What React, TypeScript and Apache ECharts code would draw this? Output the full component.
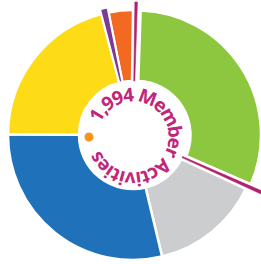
import React, { useEffect, useRef } from 'react';
import * as echarts from 'echarts';

// Slices clockwise from the top
const categories = ['Green', 'Magenta A', 'Gray', 'Blue', 'Yellow', 'Purple', 'Orange', 'Magenta B'];
const values = [618, 7, 287, 575, 415, 19, 67, 6];
const colors = ['#8dc63f', '#b0226b', '#cccdcf', '#1f72ba', '#fedb17', '#7b3a96', '#f26a21', '#b0226b'];
const centerTitle = '1,994 Member Activities';

const CX = 133;
const CY = 135;

function makeSeries(
  center: [number, number],
  radius: [number, number],
  visible: number[],
  style: (i: number) => Record<string, unknown>,
  z: number
) {
  return {
    type: 'pie',
    center,
    radius,
    startAngle: 88.1,
    clockwise: true,
    z,
    silent: true,
    avoidLabelOverlap: false,
    label: { show: false },
    labelLine: { show: false },
    emphasis: { disabled: true },
    data: categories.map((name, i) => ({
      name,
      value: values[i],
      itemStyle: visible.includes(i)
        ? style(i)
        : { color: 'rgba(0,0,0,0)', borderWidth: 0 },
    })),
  };
}

export default function App() {
  const ref = useRef<HTMLDivElement>(null);
  useEffect(() => {
    document.body.style.margin = '0';
    const chart = echarts.init(ref.current!, undefined, { renderer: 'svg' });

    const fontSize = 19;
    const fontFamily = '"Noto Sans", sans-serif';
    const canvas = document.createElement('canvas');
    const ctx = canvas.getContext('2d')!;
    ctx.font = `bold ${fontSize}px ${fontFamily}`;
    const chars = Array.from(centerTitle);
    const widths = chars.map((c) => ctx.measureText(c).width);
    const centers: number[] = [];
    let cum = 0;
    widths.forEach((w) => {
      centers.push(cum + w / 2);
      cum += w;
    });
    const a0 = 301;
    const a1 = 601;
    const s0 = centers[0];
    const s1 = centers[centers.length - 1];
    const tx = 133;
    const ty = 137;
    const tr = 42.5;
    const textEls = chars.map((ch, i) => {
      const a = a0 + ((centers[i] - s0) / (s1 - s0)) * (a1 - a0);
      const rad = (a * Math.PI) / 180;
      return {
        type: 'text',
        x: tx + tr * Math.sin(rad),
        y: ty - tr * Math.cos(rad),
        rotation: -rad,
        z: 100,
        style: {
          text: ch,
          fontSize,
          fontWeight: 'bold',
          fontFamily,
          fill: '#c0267a',
          textAlign: 'center',
          textVerticalAlign: 'middle',
          align: 'center',
          verticalAlign: 'middle',
        },
      };
    });

    const white = (w: number) => (i: number) => ({
      color: colors[i],
      borderColor: '#ffffff',
      borderWidth: w,
    });

    chart.setOption({
      animation: false,
      backgroundColor: '#ffffff',
      series: [
        makeSeries([CX, CY], [54, 125], [2, 3, 4, 6], white(2.5), 1),
        makeSeries([CX + 3.5, CY], [54, 124.5], [0], white(2.5), 1),
        makeSeries([CX, CY], [48, 150], [1, 7], () => ({
          color: '#ffffff',
          borderColor: '#ffffff',
          borderWidth: 6,
        }), 2),
        makeSeries([CX, CY], [54, 130], [5], white(2), 3),
        makeSeries([CX, CY], [54, 133], [7], (i) => ({
          color: colors[i],
          borderColor: colors[i],
          borderWidth: 0.6,
        }), 4),
        makeSeries([CX, CY], [54, 142], [1], (i) => ({
          color: colors[i],
          borderColor: colors[i],
          borderWidth: 0.6,
        }), 5),
      ],
      graphic: [
        ...textEls,
        {
          type: 'circle',
          shape: { cx: 89, cy: 137, r: 4.5 },
          style: { fill: '#f7941d' },
          z: 100,
        },
      ],
    });
    return () => chart.dispose();
  }, []);
  return (
    <div
      ref={ref}
      style={{ position: 'absolute', left: 0, top: 0, width: 261, height: 264 }}
    />
  );
}
